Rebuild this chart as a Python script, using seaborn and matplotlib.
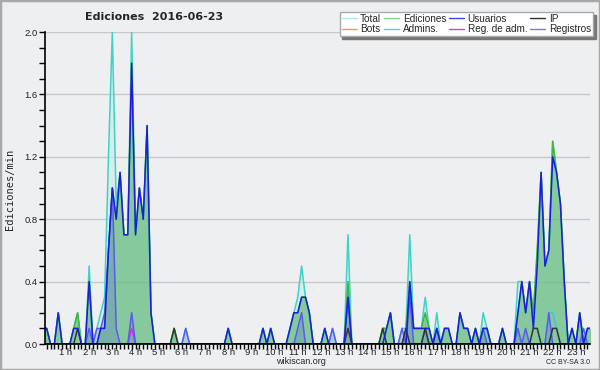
import numpy as np
import pandas as pd
import seaborn as sns
import matplotlib.pyplot as plt
from matplotlib.lines import Line2D
from matplotlib.patches import Rectangle
from matplotlib.ticker import MultipleLocator

# one slot = 10 minutes of 2016-06-23, values in edits/min (slots not listed are 0)
N_SLOTS = 143

total = {0: .1, 1: .1, 4: .2, 8: .1, 9: .2, 12: .5, 14: .1, 15: .2, 16: .3, 17: 1.2, 18: 2.0,
         19: .9, 20: 1.1, 21: .7, 22: .7, 23: 2.0, 24: .7, 25: 1.0, 26: .8, 27: 1.4, 28: .2,
         34: .1, 37: .1, 48: .1, 57: .1, 59: .1,
         64: .1, 65: .2, 66: .3, 67: .5, 68: .3, 69: .2, 73: .1, 75: .1, 79: .7,
         88: .1, 89: .1, 90: .2, 93: .1, 94: .1, 95: .7, 96: .1, 97: .1, 98: .1, 99: .3, 100: .1,
         102: .2, 104: .1, 105: .1, 108: .2, 109: .1, 110: .1, 112: .1, 114: .2, 115: .1, 119: .1,
         123: .4, 124: .4, 125: .2, 126: .4, 127: .2, 128: .6, 129: 1.1, 130: .5, 131: .6,
         132: 1.3, 133: 1.1, 134: .9, 135: .4, 137: .1, 139: .2, 141: .1, 142: .1}

ediciones = {0: .1, 1: .1, 4: .2, 8: .1, 9: .2, 12: .4, 15: .1, 16: .1, 17: .6, 18: 1.0,
             19: .8, 20: 1.1, 21: .7, 22: .7, 23: 1.8, 24: .7, 25: 1.0, 26: .8, 27: 1.4, 28: .2,
             34: .1, 48: .1, 57: .1, 59: .1,
             64: .1, 65: .2, 66: .2, 67: .3, 68: .3, 69: .2, 73: .1, 79: .4,
             88: .1, 89: .1, 90: .2, 94: .1, 95: .4, 96: .1, 97: .1, 98: .1, 99: .2, 100: .1,
             102: .1, 104: .1, 105: .1, 108: .2, 109: .1, 110: .1, 112: .1, 114: .1, 115: .1, 119: .1,
             123: .2, 124: .4, 125: .2, 126: .4, 127: .2, 128: .6, 129: 1.1, 130: .5, 131: .6,
             132: 1.3, 133: 1.1, 134: .9, 135: .4, 137: .1, 139: .2, 141: .1, 142: .1}

usuarios = {0: .1, 1: .1, 4: .2, 8: .1, 9: .1, 12: .4, 15: .1, 16: .1, 17: .6, 18: 1.0,
            19: .8, 20: 1.1, 21: .7, 22: .7, 23: 1.8, 24: .7, 25: 1.0, 26: .8, 27: 1.4, 28: .2,
            48: .1, 57: .1, 59: .1,
            64: .1, 65: .2, 66: .2, 67: .3, 68: .3, 69: .2, 73: .1, 79: .3,
            89: .1, 90: .2, 95: .4, 96: .1, 97: .1, 98: .1, 99: .1, 100: .1,
            102: .1, 104: .1, 105: .1, 108: .2, 109: .1, 110: .1, 112: .1, 114: .1, 115: .1, 119: .1,
            123: .2, 124: .4, 125: .2, 126: .4, 127: .1, 128: .5, 129: 1.1, 130: .5, 131: .6,
            132: 1.2, 133: 1.1, 134: .9, 135: .4, 137: .1, 139: .2, 141: .1, 142: .1}

ip = {9: .1, 34: .1, 79: .1, 88: .1, 94: .1, 99: .1, 127: .1, 128: .1, 132: .1, 133: .1}

bots = {}

admins = {131: .2, 132: .2, 133: .1}

reg_adm = {23: .1}

registros = {12: .1, 14: .1, 15: .1, 16: .2, 17: .6, 18: 1.0, 19: .1, 23: .2, 37: .1, 66: .1,
             67: .2, 75: .1, 79: .3, 93: .1, 95: .3, 99: .1, 102: .1, 114: .1, 123: .1, 125: .1,
             131: .2, 140: .1}

hour_ticks = list(range(1, 24))
hour_labels = [f'{h} h' for h in hour_ticks]

BG = '#eeeff0'
line_colors = {'Total': '#3fd2c6', 'Ediciones': '#3cb83c', 'Usuarios': '#1c1cdc', 'IP': '#333333',
               'Bots': '#ff9933', 'Admins.': '#44c4dc', 'Reg. de adm.': '#cc33dd', 'Registros': '#5a5af0'}
legend_colors = {'Total': '#aee6e0', 'Ediciones': '#88d088', 'Usuarios': '#4444dd', 'IP': '#333333',
                 'Bots': '#ff9933', 'Admins.': '#55ccdd', 'Reg. de adm.': '#cc44dd', 'Registros': '#7777ee'}


def to_array(d):
    arr = np.zeros(N_SLOTS)
    for slot, v in d.items():
        arr[slot] = v
    return arr


df = pd.DataFrame({'hora': np.arange(N_SLOTS) / 6})
for name, d in [('Total', total), ('Ediciones', ediciones), ('Usuarios', usuarios), ('IP', ip),
                ('Bots', bots), ('Admins.', admins), ('Reg. de adm.', reg_adm), ('Registros', registros)]:
    df[name] = to_array(d)

sns.set_theme(style='white')
plt.rcParams['font.family'] = ['Liberation Sans', 'DejaVu Sans']

fig = plt.figure(figsize=(6, 3.7), dpi=100, facecolor=BG)
ax = fig.add_axes([44.5 / 600, 1 - 344 / 370, 545.5 / 600, 312 / 370])
ax.set_facecolor(BG)

# areas
ax.fill_between(df['hora'], df['Total'], color='#c4eee6', alpha=0.6, lw=0, zorder=1)
ax.fill_between(df['hora'], df['Ediciones'], color='#38a550', alpha=0.5, lw=0, zorder=1.1)
ax.fill_between(df['hora'], df['Registros'], color='#5a6fd0', alpha=0.28, lw=0, zorder=1.2)

# lines, bottom to top
for name in ['Total', 'Ediciones', 'Admins.', 'Reg. de adm.', 'Registros', 'IP', 'Usuarios']:
    sns.lineplot(data=df, x='hora', y=name, color=line_colors[name], lw=1.1, ax=ax, zorder=2)

ax.set_xlim(0.073, 23.61)
ax.set_ylim(0, 2.0)
ax.set_xlabel('')
ax.set_ylabel('')

ax.set_yticks(np.arange(0, 2.01, 0.4))
ax.set_yticklabels([f'{v:.1f}' for v in np.arange(0, 2.01, 0.4)])
ax.yaxis.set_minor_locator(MultipleLocator(0.1))
ax.set_xticks(hour_ticks)
ax.set_xticklabels(hour_labels)
ax.xaxis.set_minor_locator(MultipleLocator(1 / 6))
ax.tick_params(which='both', direction='out', length=4, width=1, color='black',
               labelsize=6.8, labelcolor='#222222', pad=1)
ax.tick_params(axis='x', which='both', bottom=True, length=3.5, pad=-0.5)
ax.tick_params(axis='y', which='both', left=True)

ax.grid(axis='y', which='major', color='#c8c8c8', lw=1)
ax.set_axisbelow(True)
for side in ['top', 'right']:
    ax.spines[side].set_visible(False)
for side in ['left', 'bottom']:
    ax.spines[side].set_color('black')
    ax.spines[side].set_linewidth(1.2)
    ax.spines[side].set_zorder(5)

# legend
order = ['Total', 'Bots', 'Ediciones', 'Admins.', 'Usuarios', 'Reg. de adm.', 'IP', 'Registros']
handles = [Line2D([0], [0], color=legend_colors[n], lw=1) for n in order]
leg = fig.legend(handles, order, loc='upper right', bbox_to_anchor=(0.988, 0.968), ncol=4,
                 fontsize=7.2, handlelength=1.5, handletextpad=0.35, columnspacing=0.3,
                 labelspacing=0.05, borderpad=0.2, borderaxespad=0, fancybox=False,
                 framealpha=1, facecolor='white', edgecolor='#aaaaaa',
                 shadow={'color': '#777777', 'alpha': 1})
leg.get_frame().set_linewidth(1)

fig.text(154 / 600, 1 - 17 / 370, 'Ediciones  2016-06-23', ha='center', va='center',
         fontsize=8, fontweight='bold', family='DejaVu Sans')
fig.text(10 / 600, 1 - 189 / 370, 'Ediciones/min', rotation=90, ha='center', va='center',
         fontsize=7.5, family='DejaVu Sans Mono')
fig.text(301 / 600, 1 - 362 / 370, 'wikiscan.org', ha='center', va='center', fontsize=6.5)
fig.text(590 / 600, 1 - 363 / 370, 'CC BY-SA 3.0', ha='right', va='center', fontsize=5)

fig.patches.append(Rectangle((0, 0), 1, 1, transform=fig.transFigure, fill=False,
                             edgecolor='#a8a8a8', lw=2.5))

fig.savefig('out.png', dpi=100, facecolor=BG)
